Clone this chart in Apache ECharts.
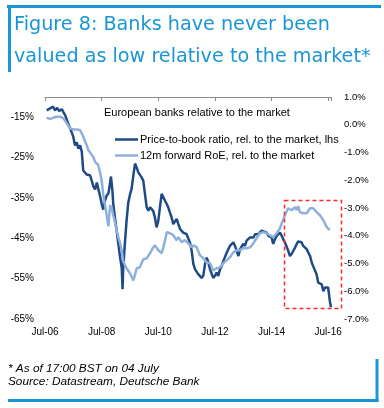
<!DOCTYPE html>
<html>
<head>
<meta charset="utf-8">
<script src="https://cdn.jsdelivr.net/npm/echarts@6/dist/echarts.min.js"></script>
<style>
html,body{margin:0;padding:0;background:#fff;}
#chart{width:384px;height:408px;}
</style>
</head>
<body>
<div id="chart"></div>
<script>
// Price-to-book ratio rel. to market (lhs, %), dates as decimal years
const pbDates = [2006.56,2006.68,2006.79,2006.85,2006.93,2007.00,2007.09,2007.21,2007.32,2007.44,2007.50,2007.56,2007.62,2007.68,2007.74,2007.80,2007.85,2007.97,2008.09,2008.15,2008.21,2008.27,2008.33,2008.38,2008.44,2008.50,2008.56,2008.62,2008.68,2008.74,2008.80,2008.83,2008.88,2008.91,2008.97,2009.03,2009.09,2009.15,2009.21,2009.24,2009.26,2009.32,2009.38,2009.44,2009.50,2009.56,2009.62,2009.68,2009.74,2009.79,2009.85,2009.91,2009.97,2010.03,2010.09,2010.15,2010.21,2010.27,2010.32,2010.38,2010.44,2010.50,2010.56,2010.62,2010.68,2010.74,2010.80,2010.85,2010.91,2010.97,2011.03,2011.09,2011.15,2011.21,2011.27,2011.38,2011.50,2011.56,2011.62,2011.68,2011.74,2011.80,2011.91,2012.03,2012.09,2012.15,2012.21,2012.27,2012.33,2012.39,2012.44,2012.50,2012.56,2012.62,2012.68,2012.74,2012.80,2012.92,2013.03,2013.15,2013.21,2013.27,2013.33,2013.39,2013.45,2013.50,2013.56,2013.62,2013.68,2013.74,2013.80,2013.86,2013.92,2014.03,2014.09,2014.15,2014.21,2014.33,2014.39,2014.44,2014.50,2014.56,2014.62,2014.68,2014.74,2014.80,2014.86,2014.91,2014.97,2015.03,2015.09,2015.15,2015.21,2015.27,2015.33,2015.39,2015.44,2015.50,2015.56,2015.62,2015.74,2015.80,2015.86,2015.92,2015.97,2016.03,2016.09,2016.15,2016.21,2016.27,2016.33,2016.39,2016.45,2016.50,2016.56,2016.60];
const pbValues = [-13.3,-12.8,-12.4,-13.3,-12.7,-13.5,-13.0,-14.5,-16.6,-18.7,-19.9,-22.0,-21.2,-22.8,-22.0,-23.6,-28.2,-29.2,-29.4,-30.7,-32.2,-32.9,-31.2,-32.7,-34.4,-36.4,-37.9,-35.7,-34.4,-33.9,-31.2,-29.7,-33.2,-36.4,-39.9,-43.1,-46.4,-49.6,-52.4,-57.6,-52.6,-46.4,-40.7,-36.2,-34.2,-32.7,-29.4,-26.5,-27.5,-28.6,-29.0,-29.9,-30.7,-34.0,-37.3,-38.2,-37.3,-37.3,-38.2,-39.8,-42.3,-40.7,-37.3,-34.0,-34.4,-35.7,-36.5,-37.3,-38.6,-39.8,-41.5,-41.9,-40.2,-41.5,-42.7,-43.6,-44.0,-44.4,-46.1,-48.1,-51.4,-52.7,-53.9,-54.8,-54.3,-51.4,-49.8,-51.0,-52.7,-53.9,-54.8,-54.3,-53.5,-54.3,-52.7,-51.9,-50.6,-48.5,-46.9,-46.0,-46.9,-48.1,-49.4,-47.7,-47.3,-46.4,-46.9,-45.6,-46.0,-44.8,-44.4,-44.8,-44.0,-44.0,-43.6,-43.1,-43.4,-43.6,-44.4,-44.0,-44.8,-46.4,-45.2,-44.4,-44.0,-43.6,-44.4,-45.2,-46.0,-46.4,-48.1,-49.4,-48.9,-48.1,-47.3,-46.4,-45.8,-45.8,-46.0,-46.9,-47.7,-48.1,-49.4,-51.0,-51.9,-52.3,-53.9,-56.0,-55.6,-56.4,-58.1,-57.2,-57.6,-57.2,-60.6,-62.1];

// 12m forward RoE rel. to market (rhs, %)
const roeDates = [2006.56,2006.68,2006.79,2006.91,2007.03,2007.15,2007.27,2007.38,2007.50,2007.62,2007.74,2007.80,2007.85,2007.97,2008.03,2008.09,2008.21,2008.27,2008.38,2008.44,2008.50,2008.56,2008.62,2008.68,2008.74,2008.80,2008.86,2008.91,2008.97,2009.03,2009.09,2009.15,2009.21,2009.26,2009.38,2009.50,2009.62,2009.68,2009.74,2009.85,2009.97,2010.09,2010.21,2010.32,2010.38,2010.50,2010.62,2010.68,2010.74,2010.80,2010.91,2010.97,2011.03,2011.15,2011.21,2011.32,2011.44,2011.56,2011.68,2011.74,2011.80,2011.86,2011.97,2012.09,2012.21,2012.33,2012.44,2012.56,2012.68,2012.80,2012.92,2013.03,2013.15,2013.27,2013.39,2013.50,2013.62,2013.74,2013.86,2013.97,2014.03,2014.09,2014.21,2014.33,2014.44,2014.56,2014.68,2014.74,2014.80,2014.86,2014.91,2014.97,2015.03,2015.09,2015.15,2015.21,2015.27,2015.33,2015.39,2015.44,2015.50,2015.62,2015.74,2015.86,2015.92,2015.97,2016.09,2016.21,2016.33,2016.45,2016.56];
const roeValues = [0.25,0.21,0.25,0.29,0.29,0.23,0.05,-0.13,-0.17,-0.17,-0.19,-0.31,-0.43,-0.73,-0.91,-0.85,-1.17,-1.34,-1.45,-1.71,-2.00,-2.54,-2.90,-3.26,-3.66,-2.90,-3.01,-3.26,-3.51,-3.80,-4.05,-4.27,-4.52,-4.92,-5.17,-5.35,-5.61,-5.39,-5.17,-5.14,-4.85,-4.81,-4.63,-4.42,-4.34,-4.52,-4.63,-4.42,-4.16,-3.87,-3.91,-3.84,-3.98,-4.16,-4.05,-4.23,-4.16,-4.27,-4.42,-4.34,-4.27,-4.42,-4.70,-4.81,-4.96,-4.99,-5.25,-5.17,-5.14,-4.99,-4.88,-4.78,-4.60,-4.52,-4.52,-4.45,-4.45,-4.42,-4.27,-4.09,-4.05,-3.91,-3.87,-3.91,-3.98,-4.05,-3.91,-3.87,-3.73,-3.55,-3.44,-3.26,-3.19,-3.01,-2.97,-3.08,-3.01,-2.97,-3.08,-2.93,-3.15,-3.19,-3.19,-3.01,-2.97,-3.01,-3.15,-3.26,-3.44,-3.69,-3.80];

const xTickLabels = ['Jul-06','Jul-08','Jul-10','Jul-12','Jul-14','Jul-16'];
const seriesNames = ['Price-to-book ratio, rel. to the market, lhs','12m forward RoE, rel. to the market'];

const chart = echarts.init(document.getElementById('chart'), null, {renderer:'canvas'});
const FONT = 'Liberation Sans, Arial, sans-serif';
const BLUE = '#1a96d6';
const DARK = '#1f4a86';
const LIGHT = '#8fb0dd';
const xMin = 2006.5, xMax = 2016.6;

function xLabel(v){
  const idx = Math.round((v - xMin) / 2);
  if (Math.abs(v - (xMin + idx*2)) > 0.01) return '';
  return xTickLabels[idx] || '';
}

const option = {
  animation:false,
  backgroundColor:'#fff',
  title:[
    {text:'Figure 8: Banks have never been\nvalued as low relative to the market*', left:14, top:9, padding:0,
     textStyle:{fontFamily:'DejaVu Sans', fontSize:19.2, fontWeight:'normal', color:BLUE, lineHeight:32}},
    {text:'European banks relative to the market', left:104, top:107, padding:0,
     textStyle:{fontFamily:FONT, fontSize:11, fontWeight:'normal', color:'#000'}},
    {text:'* As of 17:00 BST on 04 July\nSource: Datastream, Deutsche Bank', left:8, top:362, padding:0,
     textStyle:{fontFamily:FONT, fontSize:11.8, fontStyle:'italic', fontWeight:'normal', color:'#000', lineHeight:13.4}}
  ],
  legend:{
    orient:'vertical', left:115, top:134, padding:0,
    itemWidth:23, itemHeight:10, itemGap:5,
    data:[
      {name:seriesNames[0], icon:'path://M0,4 L23,4 L23,6.5 L0,6.5 Z', itemStyle:{color:DARK}},
      {name:seriesNames[1], icon:'path://M0,4 L23,4 L23,6.5 L0,6.5 Z', itemStyle:{color:LIGHT}}
    ],
    textStyle:{fontFamily:FONT, fontSize:11, color:'#000', padding:[0,0,0,-3]}
  },
  grid:{left:45, right:53, top:97, bottom:89, containLabel:false},
  xAxis:[
    {type:'value', position:'bottom', min:xMin, max:xMax, interval:2,
     axisLine:{show:false}, axisTick:{show:false}, splitLine:{show:false},
     axisLabel:{formatter:xLabel, margin:8, fontFamily:FONT, fontSize:10, color:'#000', showMaxLabel:false}},
    {type:'value', position:'top', min:xMin, max:xMax, interval:2,
     axisLine:{show:true, lineStyle:{color:'#8c8c8c', width:1}},
     axisTick:{show:true, inside:true, length:4, lineStyle:{color:'#8c8c8c'}},
     axisLabel:{show:false}, splitLine:{show:false}}
  ],
  yAxis:[
    {type:'value', position:'left', min:-65, max:-10, interval:10,
     axisLine:{show:false}, axisTick:{show:false}, splitLine:{show:false},
     axisLabel:{formatter:v=>v+'%', margin:11, fontFamily:FONT, fontSize:10, color:'#000', showMaxLabel:false}},
    {type:'value', position:'right', min:-7, max:1, interval:1,
     axisLine:{show:false}, axisTick:{show:false}, splitLine:{show:false},
     axisLabel:{formatter:v=>v.toFixed(1)+'%', margin:13, fontFamily:FONT, fontSize:9.5, color:'#000'}}
  ],
  series:[
    {name:seriesNames[0], type:'line', xAxisIndex:0, yAxisIndex:0, symbol:'none', showSymbol:false,
     lineStyle:{color:DARK, width:2.5}, itemStyle:{color:DARK},
     data:pbDates.map((d,i)=>[d,pbValues[i]])},
    {name:seriesNames[1], type:'line', xAxisIndex:0, yAxisIndex:1, symbol:'none', showSymbol:false,
     lineStyle:{color:LIGHT, width:2.5}, itemStyle:{color:LIGHT},
     data:roeDates.map((d,i)=>[d,roeValues[i]])}
  ],
  graphic:[
    {type:'line', shape:{x1:7, y1:6.5, x2:381, y2:6.5}, style:{stroke:BLUE, lineWidth:3}},
    {type:'line', shape:{x1:9.5, y1:5, x2:9.5, y2:72}, style:{stroke:BLUE, lineWidth:3}},
    {type:'line', shape:{x1:8, y1:400.5, x2:378.5, y2:400.5}, style:{stroke:BLUE, lineWidth:3}},
    {type:'line', shape:{x1:377, y1:359, x2:377, y2:402}, style:{stroke:BLUE, lineWidth:3}},
    {type:'rect', shape:{x:284.5, y:200.5, width:57, height:108}, z:10,
     style:{fill:'none', stroke:'#ff2a2a', lineWidth:1.5, lineDash:[4,3]}}
  ]
};
chart.setOption(option);
</script>
</body>
</html>
